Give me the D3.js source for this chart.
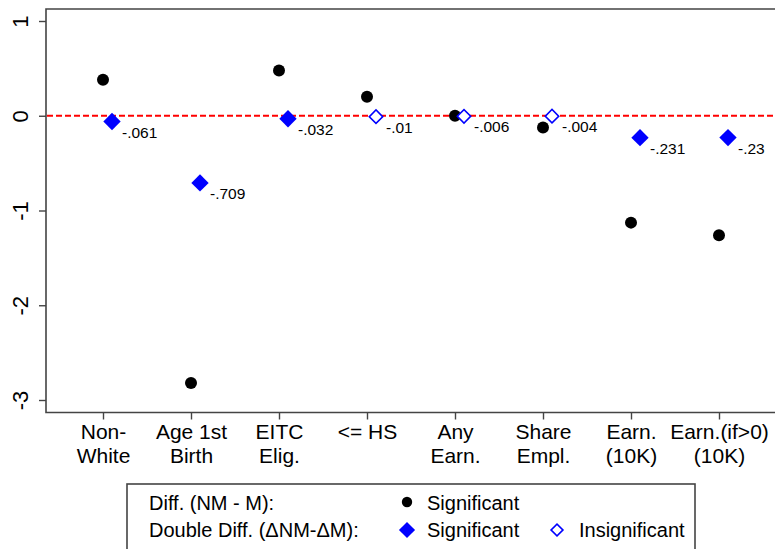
<!DOCTYPE html>
<html>
<head>
<meta charset="utf-8">
<script src="https://cdn.jsdelivr.net/npm/d3@7"></script>
<style>
  html, body { margin: 0; padding: 0; background: #fff; }
  svg { display: block; font-family: Arial, "Liberation Sans", Helvetica, sans-serif; }
</style>
</head>
<body>
<svg id="chart" width="775" height="549"></svg>
<script>
// ---- data ----
const categories = ["Non-White", "Age 1st Birth", "EITC Elig.", "<= HS", "Any Earn.", "Share Empl.", "Earn. (10K)", "Earn.(if>0) (10K)"];
const categoryLines = [["Non-", "White"], ["Age 1st", "Birth"], ["EITC", "Elig."], ["<= HS"], ["Any", "Earn."], ["Share", "Empl."], ["Earn.", "(10K)"], ["Earn.(if>0)", "(10K)"]];
const diffValues = [0.38, -2.82, 0.478, 0.20, 0.0, -0.125, -1.128, -1.26];
const doubleDiffValues = [-0.061, -0.709, -0.032, -0.01, -0.006, -0.004, -0.231, -0.23];
const doubleDiffLabels = ["-.061", "-.709", "-.032", "-.01", "-.006", "-.004", "-.231", "-.23"];
const doubleDiffSignificant = [true, true, true, false, false, false, true, true];
const yTicks = [1, 0, -1, -2, -3];
const yTickLabels = ["1", "0", "-1", "-2", "-3"];

// ---- layout ----
const svg = d3.select("#chart");
const frame = { left: 46, right: 790, top: 9, bottom: 412.5 };

const x = d3.scalePoint().domain(categories).range([103, 719]);
const y = d3.scaleLinear().domain([-3, 1]).range([400, 21]);
const dOff = 9; // horizontal offset of the double-diff marker

const axisColor = "#444";

// frame (right side runs off canvas)
svg.append("path")
  .attr("d", `M${frame.right},${frame.top}H${frame.left}V${frame.bottom}H${frame.right}`)
  .attr("fill", "none").attr("stroke", axisColor).attr("stroke-width", 1.6);

// y axis
const yAxis = d3.axisLeft(y).tickValues(yTicks).tickSize(7);
const gy = svg.append("g").attr("transform", `translate(${frame.left},0)`).call(yAxis);
gy.select(".domain").remove();
gy.selectAll(".tick line").attr("stroke", axisColor).attr("stroke-width", 1.4);
gy.selectAll(".tick text").remove();
gy.selectAll(".tick").append("text")
  .attr("transform", "translate(-18,0) rotate(-90)")
  .attr("text-anchor", "middle")
  .attr("fill", "#000")
  .style("font-size", "22px")
  .text((d, i) => yTickLabels[i]);

// x axis
const xAxis = d3.axisBottom(x).tickSize(7).tickFormat("");
const gx = svg.append("g").attr("transform", `translate(0,${frame.bottom})`).call(xAxis);
gx.select(".domain").remove();
gx.selectAll(".tick line").attr("stroke", axisColor).attr("stroke-width", 1.4);
gx.selectAll(".tick text").remove();
gx.selectAll(".tick").each(function(d, i) {
  const t = d3.select(this).append("text")
    .attr("text-anchor", "middle").attr("fill", "#000").style("font-size", "21px");
  categoryLines[i].forEach((ln, j) => {
    t.append("tspan").attr("x", 0).attr("y", 26.5 + j * 23.5).text(ln);
  });
});

// zero reference line
svg.append("line")
  .attr("x1", frame.left + 1).attr("x2", 775)
  .attr("y1", y(0)).attr("y2", y(0))
  .attr("stroke", "#ff0000").attr("stroke-width", 2)
  .attr("stroke-dasharray", "6,3");

// diff circles
svg.append("g").selectAll("circle").data(diffValues).join("circle")
  .attr("cx", (d, i) => x(categories[i]))
  .attr("cy", d => y(d))
  .attr("r", 6)
  .attr("fill", "#000");

// double diff diamonds
const diamondFilled = d3.symbol().type(d3.symbolSquare).size(150);
const diamondHollow = d3.symbol().type(d3.symbolSquare).size(90);
const gd = svg.append("g");
gd.selectAll("path").data(doubleDiffValues).join("path")
  .attr("transform", (d, i) => `translate(${x(categories[i]) + dOff},${y(d)}) rotate(45)`)
  .attr("d", (d, i) => doubleDiffSignificant[i] ? diamondFilled() : diamondHollow())
  .attr("fill", (d, i) => doubleDiffSignificant[i] ? "#0000ff" : "#fff")
  .attr("stroke", "#0000ff")
  .attr("stroke-width", (d, i) => doubleDiffSignificant[i] ? 0 : 1.6);

// value labels
svg.append("g").selectAll("text").data(doubleDiffValues).join("text")
  .attr("x", (d, i) => x(categories[i]) + dOff + 10)
  .attr("y", d => y(d) + 16)
  .attr("fill", "#000")
  .style("font-size", "15.5px")
  .text((d, i) => doubleDiffLabels[i]);

// legend
const lg = svg.append("g");
lg.append("rect")
  .attr("x", 127).attr("y", 484).attr("width", 568).attr("height", 90)
  .attr("fill", "#fff").attr("stroke", axisColor).attr("stroke-width", 1.6);
const lfs = "20px";
lg.append("text").attr("x", 149).attr("y", 510).style("font-size", lfs).text("Diff. (NM - M):");
lg.append("text").attr("x", 149).attr("y", 537).style("font-size", lfs).text("Double Diff. (\u0394NM-\u0394M):");
lg.append("circle").attr("cx", 407).attr("cy", 502).attr("r", 5.2).attr("fill", "#000");
lg.append("text").attr("x", 427).attr("y", 510).style("font-size", lfs).text("Significant");
lg.append("path")
  .attr("transform", "translate(407,530) rotate(45)")
  .attr("d", d3.symbol().type(d3.symbolSquare).size(130)()).attr("fill", "#0000ff");
lg.append("text").attr("x", 427).attr("y", 537).style("font-size", lfs).text("Significant");
lg.append("path")
  .attr("transform", "translate(557,530) rotate(45)")
  .attr("d", d3.symbol().type(d3.symbolSquare).size(70)())
  .attr("fill", "#fff").attr("stroke", "#0000ff").attr("stroke-width", 1.6);
lg.append("text").attr("x", 579).attr("y", 537).style("font-size", lfs).text("Insignificant");
</script>
</body>
</html>
